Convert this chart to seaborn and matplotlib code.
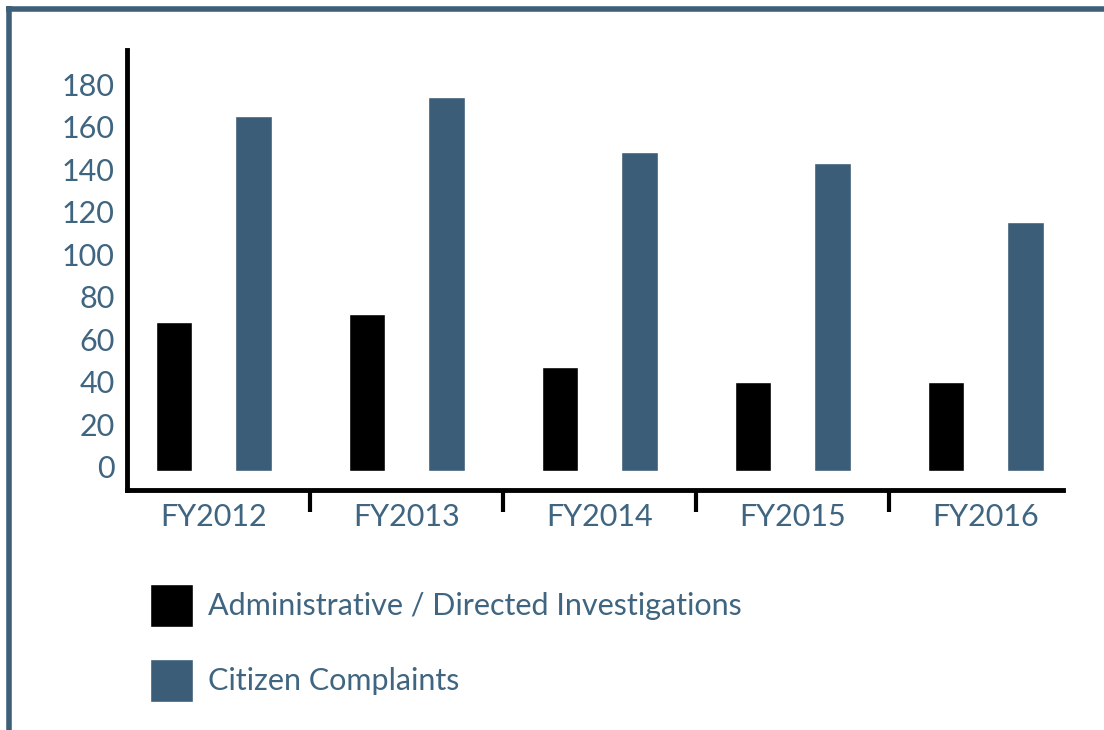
import pandas as pd
import seaborn as sns
import matplotlib.pyplot as plt
from matplotlib.lines import Line2D
from matplotlib.transforms import ScaledTranslation

# Data
years = ["FY2012", "FY2013", "FY2014", "FY2015", "FY2016"]
admin = [70, 74, 49, 42, 42]
citizen = [167, 176, 150, 145, 117]
series = ["Administrative / Directed Investigations", "Citizen Complaints"]

blue = "#3b5d77"
text_blue = "#3f6580"

sns.set_style("white")
plt.rcParams["font.family"] = ["Lato", "DejaVu Sans"]

df = pd.DataFrame({
    "year": years * 2,
    "count": admin + citizen,
    "type": [series[0]] * len(years) + [series[1]] * len(years),
})

fig = plt.figure(figsize=(11.04, 7.3), dpi=100)
ax = fig.add_axes([127 / 1104, 1 - 490 / 730, (1063 - 127) / 1104, (490 - 50) / 730])

sns.barplot(data=df, x="year", y="count", hue="type", hue_order=series,
            palette=["black", blue], width=0.82, gap=0.54, ax=ax,
            saturation=1, errorbar=None)

ax.set_xlim(-0.45, 4.40)
ax.set_ylim(-9, 198)
ax.set_yticks(range(0, 181, 20))
ax.set_xlabel("")
ax.set_ylabel("")

for s in ["top", "right"]:
    ax.spines[s].set_visible(False)
for s in ["left", "bottom"]:
    ax.spines[s].set_linewidth(3.5)
    ax.spines[s].set_color("black")

ax.tick_params(axis="y", length=0, pad=9, labelsize=22, labelcolor=text_blue)
ax.tick_params(axis="x", which="major", length=0, pad=9, labelsize=22, labelcolor=text_blue)
ax.set_xticks([0.5, 1.5, 2.5, 3.5], minor=True)
ax.tick_params(axis="x", which="minor", bottom=True, length=16, width=3,
               color="black", direction="out")

# y labels sit a little above the bar baseline in the original
for lbl in ax.get_yticklabels():
    lbl.set_transform(lbl.get_transform() + ScaledTranslation(0, 3 / 72, fig.dpi_scale_trans))

# legend
handles, labels = ax.get_legend_handles_labels()
ax.legend(handles, labels, loc="upper left", bbox_to_anchor=(150 / 1104, 1 - 584 / 730),
          bbox_transform=fig.transFigure, frameon=False, fontsize=22,
          handlelength=1.4, handleheight=1.78, handletextpad=0.5,
          labelspacing=1.05, borderpad=0, borderaxespad=0, labelcolor=text_blue)

# frame lines at top and left
fig.add_artist(Line2D([6 / 1104, 1], [1 - 8.5 / 730, 1 - 8.5 / 730], color="#3d6078", lw=4,
                      solid_capstyle="butt", transform=fig.transFigure))
fig.add_artist(Line2D([8.5 / 1104, 8.5 / 1104], [0, 1 - 6 / 730], color="#3d6078", lw=4,
                      solid_capstyle="butt", transform=fig.transFigure))

plt.savefig("out.png", dpi=100)
